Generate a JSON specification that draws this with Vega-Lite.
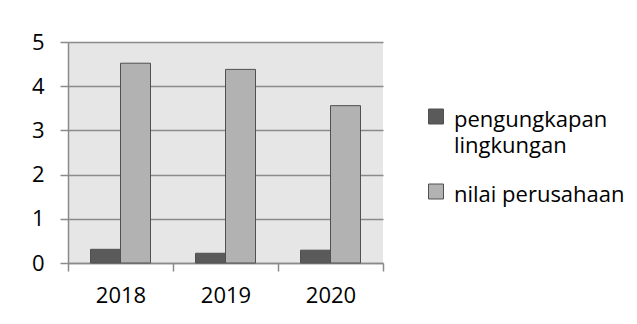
{
  "$schema": "https://vega.github.io/schema/vega-lite/v6.json",
  "width": 315,
  "height": 221,
  "autosize": {"type": "none"},
  "padding": {"left": 68, "top": 42, "right": 254, "bottom": 61},
  "background": "white",
  "data": {"values": [
    {"year": "2018", "series": "pengungkapan lingkungan", "value": 0.31},
    {"year": "2018", "series": "nilai perusahaan", "value": 4.52},
    {"year": "2019", "series": "pengungkapan lingkungan", "value": 0.22},
    {"year": "2019", "series": "nilai perusahaan", "value": 4.38},
    {"year": "2020", "series": "pengungkapan lingkungan", "value": 0.29},
    {"year": "2020", "series": "nilai perusahaan", "value": 3.56}
  ]},
  "mark": {"type": "bar", "stroke": "#505050", "strokeWidth": 1},
  "encoding": {
    "x": {
      "field": "year", "type": "nominal",
      "scale": {"paddingInner": 0, "paddingOuter": 0},
      "axis": {"title": null, "labelAngle": 0, "tickBand": "extent", "tickSize": 8, "labelPadding": 14, "domainColor": "#8a8a8a", "tickColor": "#8a8a8a", "grid": false}
    },
    "xOffset": {
      "field": "series", "type": "nominal",
      "sort": ["pengungkapan lingkungan", "nilai perusahaan"],
      "scale": {"paddingInner": 0, "paddingOuter": 0.75}
    },
    "y": {
      "field": "value", "type": "quantitative",
      "scale": {"domain": [0, 5], "nice": false},
      "axis": {"title": null, "values": [0, 1, 2, 3, 4, 5], "labelOverlap": false, "tickSize": 8, "labelPadding": 16, "domainColor": "#8a8a8a", "tickColor": "#8a8a8a", "gridColor": "#8a8a8a", "gridWidth": 1.5}
    },
    "color": {
      "field": "series", "type": "nominal",
      "sort": ["pengungkapan lingkungan", "nilai perusahaan"],
      "scale": {"domain": ["pengungkapan lingkungan", "nilai perusahaan"], "range": ["#5a5a5a", "#b2b2b2"]},
      "legend": {
        "title": null, "orient": "none", "legendX": 357, "legendY": 74,
        "symbolType": "M-1,-2.4H1V-0.4H-1Z", "symbolSize": 225, "symbolStrokeColor": "#505050", "symbolStrokeWidth": 1,
        "labelFontSize": 22, "labelLimit": 300, "labelBaseline": "alphabetic", "labelOffset": 7, "rowPadding": 25,
        "labelExpr": "datum.label == 'pengungkapan lingkungan' ? ['pengungkapan', 'lingkungan'] : datum.label",
        "encode": {"labels": {"update": {"lineHeight": {"value": 26}}}}
      }
    }
  },
  "config": {
    "font": "Open Sans",
    "view": {"fill": "#e6e6e6", "stroke": null},
    "axis": {"labelFontSize": 22, "labelColor": "#000", "labelFont": "Open Sans", "domainWidth": 1.5, "tickWidth": 1.5},
    "legend": {"labelFont": "Open Sans", "labelColor": "#000"}
  }
}
